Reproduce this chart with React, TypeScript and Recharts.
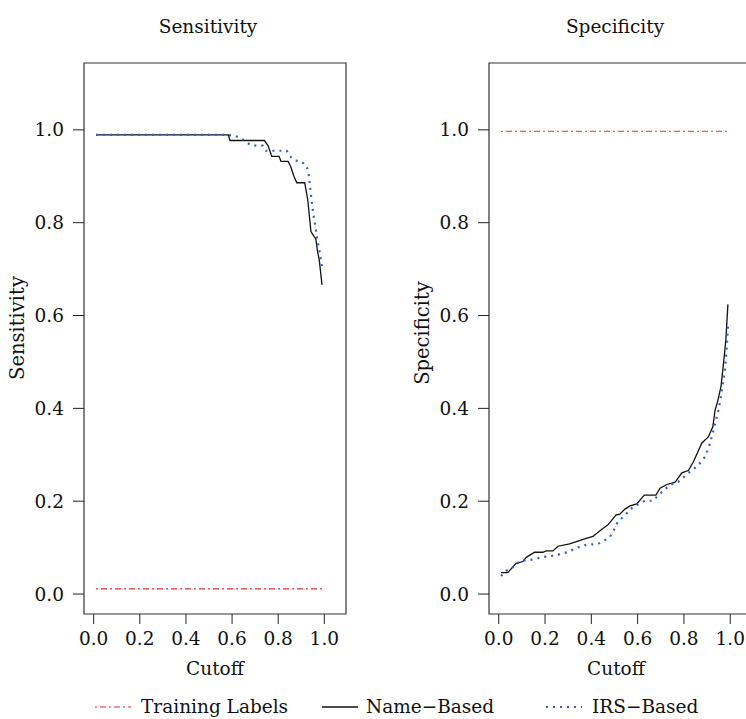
import React from "react";
import { LineChart, Line, XAxis, YAxis, ReferenceArea } from "recharts";

// cutoff values and rates
const trainCutoff = [0.01, 0.99];
const trainSens = [0.011, 0.011];
const trainSpec = [0.997, 0.997];

const nameSensCutoff = [0.01, 0.584, 0.591, 0.74, 0.756, 0.772, 0.804, 0.812, 0.843, 0.855, 0.868, 0.881, 0.915, 0.928, 0.942, 0.956, 0.963, 0.97, 0.978, 0.99];
const nameSens = [0.989, 0.989, 0.977, 0.977, 0.966, 0.943, 0.943, 0.932, 0.932, 0.92, 0.9, 0.886, 0.886, 0.85, 0.781, 0.77, 0.766, 0.74, 0.72, 0.666];

const irsSensCutoff = [0.01, 0.584, 0.613, 0.635, 0.657, 0.678, 0.703, 0.733, 0.746, 0.837, 0.851, 0.873, 0.898, 0.921, 0.931, 0.938, 0.944, 0.952, 0.961, 0.97, 0.981, 0.99];
const irsSens = [0.989, 0.989, 0.987, 0.983, 0.976, 0.968, 0.966, 0.966, 0.955, 0.955, 0.943, 0.934, 0.932, 0.924, 0.91, 0.878, 0.851, 0.82, 0.793, 0.763, 0.734, 0.704];

const nameSpecCutoff = [0.01, 0.039, 0.075, 0.104, 0.119, 0.155, 0.191, 0.205, 0.234, 0.256, 0.306, 0.342, 0.371, 0.407, 0.444, 0.472, 0.506, 0.523, 0.545, 0.567, 0.596, 0.629, 0.679, 0.697, 0.726, 0.762, 0.791, 0.819, 0.841, 0.877, 0.906, 0.925, 0.935, 0.945, 0.96, 0.971, 0.981, 0.99];
const nameSpec = [0.046, 0.046, 0.066, 0.07, 0.079, 0.09, 0.09, 0.093, 0.093, 0.103, 0.108, 0.114, 0.119, 0.124, 0.139, 0.149, 0.17, 0.172, 0.183, 0.19, 0.194, 0.213, 0.213, 0.228, 0.236, 0.241, 0.261, 0.266, 0.285, 0.325, 0.339, 0.361, 0.397, 0.414, 0.447, 0.497, 0.547, 0.624];

const irsSpecCutoff = [0.01, 0.031, 0.056, 0.075, 0.101, 0.133, 0.184, 0.241, 0.295, 0.35, 0.379, 0.429, 0.458, 0.48, 0.494, 0.509, 0.538, 0.559, 0.581, 0.61, 0.631, 0.667, 0.689, 0.726, 0.755, 0.776, 0.82, 0.863, 0.892, 0.913, 0.935, 0.95, 0.964, 0.978, 0.985, 0.99];
const irsSpec = [0.039, 0.05, 0.055, 0.065, 0.072, 0.073, 0.079, 0.083, 0.09, 0.102, 0.106, 0.108, 0.116, 0.123, 0.134, 0.151, 0.167, 0.177, 0.188, 0.195, 0.201, 0.201, 0.213, 0.229, 0.239, 0.242, 0.261, 0.278, 0.296, 0.325, 0.368, 0.397, 0.44, 0.486, 0.533, 0.576];

const ticks = [0, 0.2, 0.4, 0.6, 0.8, 1.0];
const xDomain = [-0.042, 1.094];
const yDomain = [-0.043, 1.144];

const FONT = "'DejaVu Serif', serif";
const FS = 18.5;
const RED = "#ee2a2a";
const BLUE = "#3b5bc4";

const zip = (xs: number[], ys: number[]) => xs.map((x, i) => ({ x, y: ys[i] }));

function Panel({ train, name, irs, yAxisWidth, right }: any) {
  const tick = { fill: "#111", fontSize: FS, fontFamily: FONT };
  return (
    <LineChart width={360} height={719} margin={{ top: 63, right, bottom: 0, left: 0 }}>
      <XAxis
        dataKey="x" type="number" domain={xDomain} ticks={ticks} allowDataOverflow
        tickFormatter={(v: number) => v.toFixed(1)} height={105}
        axisLine={false} tickLine={{ stroke: "#222" }} tickSize={10} tickMargin={8} tick={tick} interval={0}
      />
      <YAxis
        dataKey="y" type="number" domain={yDomain} ticks={ticks} allowDataOverflow
        tickFormatter={(v: number) => v.toFixed(1)} width={yAxisWidth}
        axisLine={false} tickLine={{ stroke: "#222" }} tickSize={11} tickMargin={9} tick={tick} interval={0}
      />
      <ReferenceArea x1={xDomain[0]} x2={xDomain[1]} y1={yDomain[0]} y2={yDomain[1]} fill="none" stroke="#333" strokeWidth={1.2} fillOpacity={0} />
      <Line data={train} dataKey="y" stroke={RED} strokeWidth={1.2} strokeDasharray="2 3 6 3" dot={false} isAnimationActive={false} />
      <Line data={name} dataKey="y" stroke="#111" strokeWidth={1.3} dot={false} isAnimationActive={false} />
      <Line data={irs} dataKey="y" stroke={BLUE} strokeWidth={2.2} strokeDasharray="2 5" dot={false} isAnimationActive={false} />
    </LineChart>
  );
}

const abs = (left: number, top: number, extra: any = {}) => ({
  position: "absolute" as const, left, top, fontFamily: FONT, fontSize: FS, lineHeight: 1, color: "#111", whiteSpace: "nowrap" as const, ...extra,
});

function Centered({ x, y, size = FS, rotate = false, children }: any) {
  return (
    <div style={abs(x, y, { fontSize: size, transform: `translate(-50%, -50%)${rotate ? " rotate(-90deg)" : ""}` })}>{children}</div>
  );
}

function Sample({ x, color, dash, width }: any) {
  return (
    <svg style={{ position: "absolute", left: x, top: 700 }} width={38} height={14}>
      <line x1={0} y1={7} x2={36} y2={7} stroke={color} strokeWidth={width} strokeDasharray={dash} />
    </svg>
  );
}

export default function App() {
  return (
    <div style={{ position: "fixed", left: 0, top: 0, width: 746, height: 719, overflow: "hidden", background: "#fff" }}>
      <div style={{ position: "absolute", left: 0, top: 0 }}>
        <Panel train={zip(trainCutoff, trainSens)} name={zip(nameSensCutoff, nameSens)} irs={zip(irsSensCutoff, irsSens)} yAxisWidth={84} right={14} />
      </div>
      <div style={{ position: "absolute", left: 400, top: 0 }}>
        <Panel train={zip(trainCutoff, trainSpec)} name={zip(nameSpecCutoff, nameSpec)} irs={zip(irsSpecCutoff, irsSpec)} yAxisWidth={89} right={8} />
      </div>
      <Centered x={208} y={27}>Sensitivity</Centered>
      <Centered x={615} y={27}>Specificity</Centered>
      <Centered x={215} y={669}>Cutoff</Centered>
      <Centered x={616} y={669}>Cutoff</Centered>
      <Centered x={18} y={328} size={19.5} rotate>Sensitivity</Centered>
      <Centered x={423} y={333} size={19.5} rotate>Specificity</Centered>
      <Sample x={95} color={RED} dash="2 3 6 3" width={1.2} />
      <div style={abs(141, 707, { transform: "translateY(-50%)" })}>Training Labels</div>
      <Sample x={322} color="#111" width={1.3} />
      <div style={abs(366, 707, { transform: "translateY(-50%)" })}>Name−Based</div>
      <Sample x={546} color={BLUE} dash="2 5" width={2.2} />
      <div style={abs(592, 707, { transform: "translateY(-50%)" })}>IRS−Based</div>
    </div>
  );
}
